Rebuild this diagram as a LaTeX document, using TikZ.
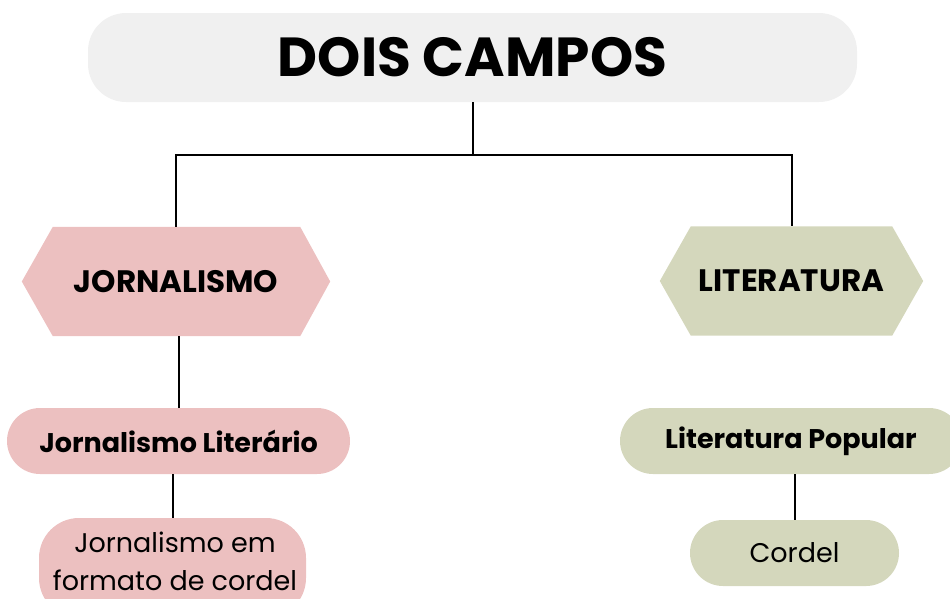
\documentclass[tikz,border=0pt]{standalone}
\usepackage{fontspec}
\setmainfont{Poppins}
\usetikzlibrary{backgrounds,calc}
\definecolor{titlegray}{HTML}{F0F0F0}
\definecolor{pinkfill}{HTML}{ECC0C0}
\definecolor{olivefill}{HTML}{D4D7BC}
\tikzset{
  conn/.style={draw=black, line width=2pt},
  hexnode/.style={inner sep=0pt, minimum height=109pt, font=\fontsize{31}{34}\selectfont\bfseries},
  pill/.style={inner sep=0pt, minimum height=66pt, rounded corners=33pt},
  subfont/.style={font=\fontsize{27}{30}\selectfont\bfseries},
  leaffont/.style={font=\fontsize{27}{38}\selectfont},
}
\begin{document}
\begin{tikzpicture}[x=1pt,y=-1pt]
\useasboundingbox (0,0) rectangle (950,598);
% title
\node[fill=titlegray, rounded corners=38pt, minimum width=769pt, minimum height=89pt, inner sep=0pt,
      font=\fontsize{55}{58}\selectfont\bfseries] (title) at (472.5,57.5) {DOIS CAMPOS};
% hexagons
\node[hexnode, minimum width=308pt] (jor) at (176,281.5) {JORNALISMO};
\node[hexnode, minimum width=263pt] (lit) at (791.5,281) {LITERATURA};
\begin{scope}[on background layer]
\fill[pinkfill] (jor.west) -- ($(jor.north west)+(31,0)$) -- ($(jor.north east)+(-30,0)$) -- (jor.east)
  -- ($(jor.south east)+(-30,0)$) -- ($(jor.south west)+(31,0)$) -- cycle;
\fill[olivefill] (lit.west) -- ($(lit.north west)+(31,0)$) -- ($(lit.north east)+(-31,0)$) -- (lit.east)
  -- ($(lit.south east)+(-31,0)$) -- ($(lit.south west)+(31,0)$) -- cycle;
\end{scope}
% pills
\node[pill, fill=pinkfill, minimum width=343pt, subfont] (jl) at (178.5,441) {Jornalismo Literário};
\node[pill, fill=olivefill, minimum width=342pt, subfont] (lp) at (791,441) {Literatura Popular};
\node[pill, fill=olivefill, minimum width=209pt, leaffont] (co) at (794.5,553) {Cordel};
\node[fill=pinkfill, inner sep=0pt, minimum width=267pt, minimum height=100pt, rounded corners=40pt] (jf) at (172.5,568) {};
\node[align=center, leaffont, inner sep=0pt] (jft) at (175,561) {Jornalismo em\\formato de cordel};
% connectors
\coordinate (split) at (title.south |- 0,155);
\draw[conn] (title.south) -- (split);
\draw[conn] (jor.north) |- (split) -| (lit.north);
\draw[conn] (jl.north) -- (jl.north |- jor.south);
\draw[conn] (jf.north) -- (jf.north |- jl.south);
\draw[conn] (co.north) -- (co.north |- lp.south);
\end{tikzpicture}
\end{document}
